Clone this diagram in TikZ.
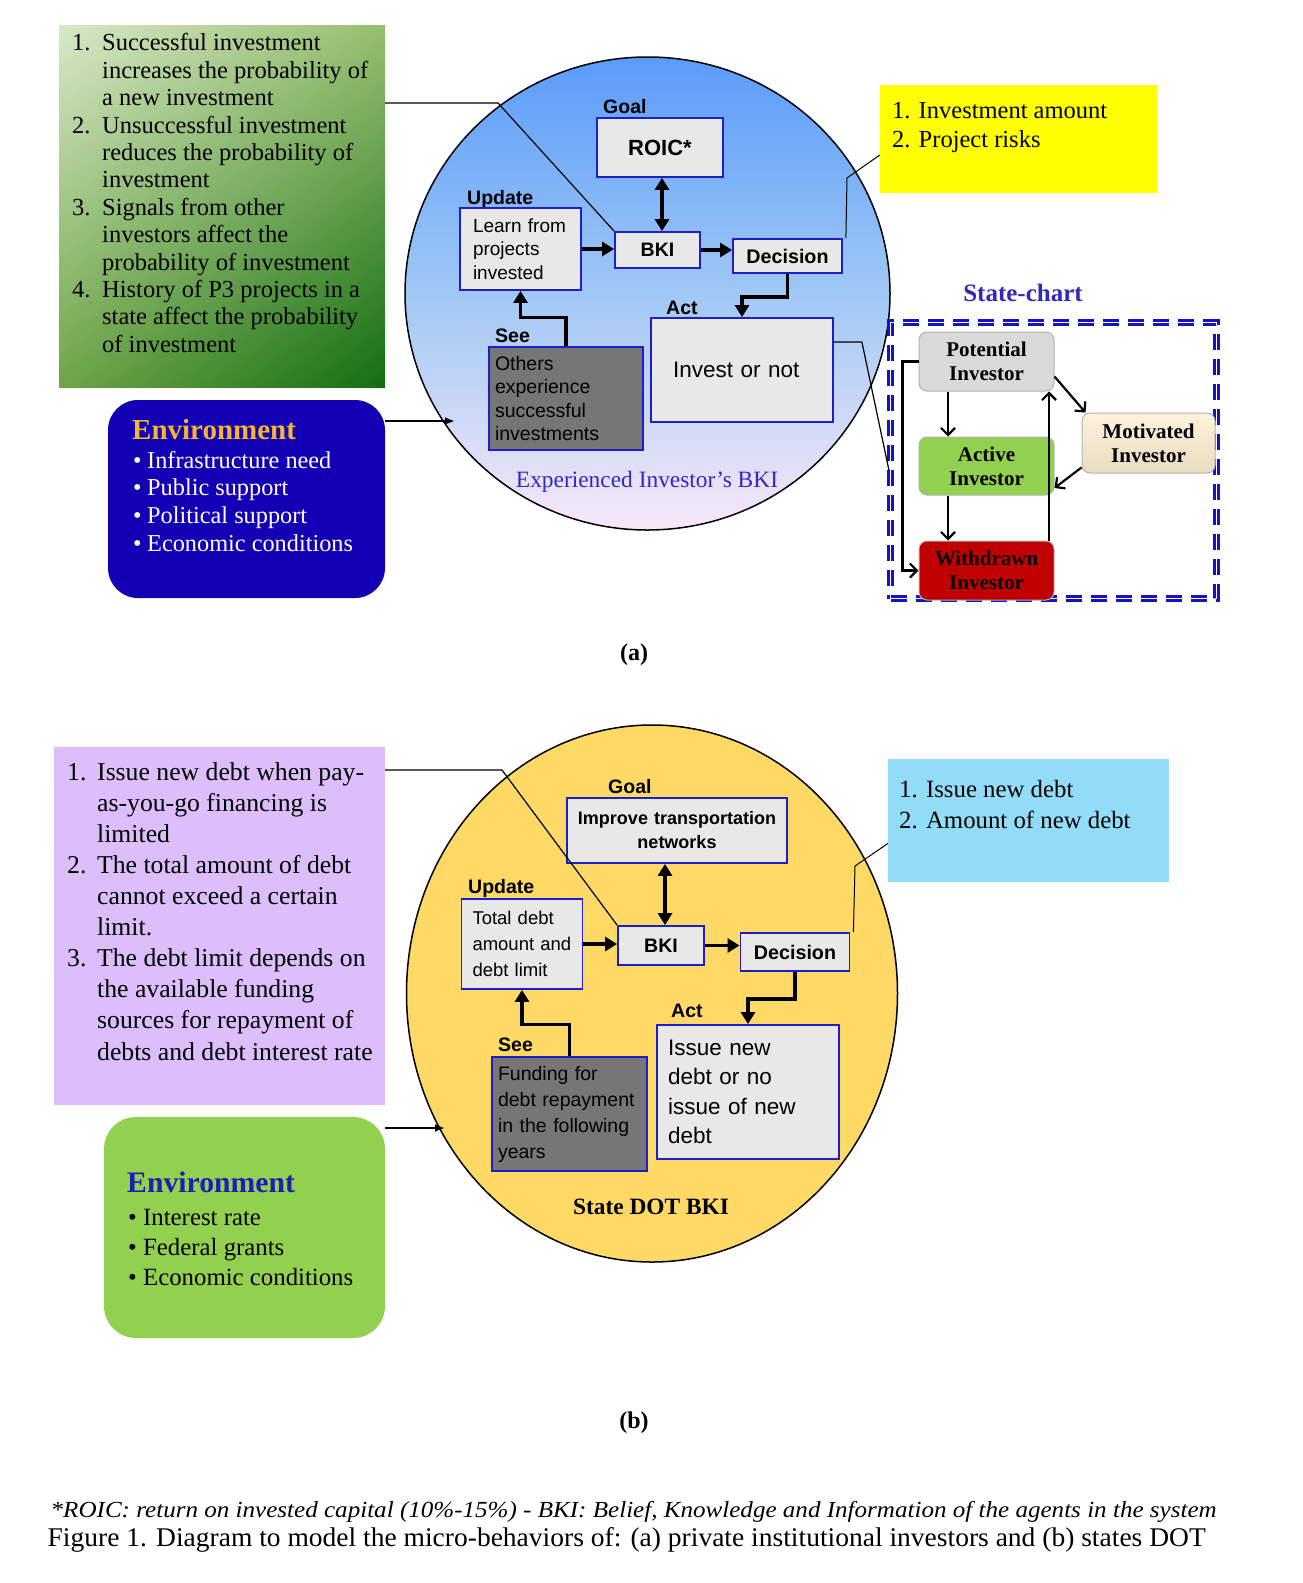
\documentclass[tikz,border=0pt]{standalone}
\usepackage{fontspec}
\setmainfont{Liberation Serif}
\setsansfont{Liberation Sans}
\usepackage{graphicx}
\usetikzlibrary{arrows.meta,positioning,shapes.geometric,shadings}

\definecolor{grnTL}{RGB}{216,232,200}
\definecolor{grnTR}{RGB}{150,190,110}
\definecolor{grnBL}{RGB}{110,165,70}
\definecolor{grnBR}{RGB}{20,110,20}
\definecolor{skyTop}{RGB}{90,155,250}
\definecolor{skyMid}{RGB}{160,200,245}
\definecolor{skyBot}{RGB}{248,232,248}
\definecolor{boxblue}{RGB}{30,30,200}
\definecolor{boxgray}{RGB}{232,232,232}
\definecolor{seegray}{RGB}{118,118,118}
\definecolor{envnavy}{RGB}{20,0,180}
\definecolor{envgold}{RGB}{245,180,50}
\definecolor{noteyellow}{RGB}{255,255,0}
\definecolor{titleblue}{RGB}{50,40,190}
\definecolor{frameblue}{RGB}{20,20,190}
\definecolor{potgray}{RGB}{217,217,217}
\definecolor{actgreen}{RGB}{146,208,80}
\definecolor{wdred}{RGB}{192,0,0}
\definecolor{motTop}{RGB}{253,242,220}
\definecolor{motBot}{RGB}{232,220,190}
\definecolor{rulesLilac}{RGB}{220,190,250}
\definecolor{dotGold}{RGB}{255,217,102}
\definecolor{noteCyan}{RGB}{146,220,248}
\definecolor{envNavyText}{RGB}{30,30,180}

\newcommand\setfs[2]{\fontsize{#1}{#2}\selectfont}
\newlength\fitlen
\newcommand\fitto[2]{\settowidth\fitlen{#2}%
  \pgfmathsetmacro\fitratio{#1/\fitlen}\scalebox{\fitratio}[1]{#2}}

\begin{document}
\begin{tikzpicture}[x=1pt,y=-1pt,
    ibox/.style = {draw=boxblue, line width=1.8pt, fill=boxgray,
        inner ysep=0pt},
    lbl/.style = {font=\sffamily\bfseries\setfs{19.5}{22},
        inner sep=0pt, anchor=west},
    flow/.style = {line width=3.2pt,
        -{Triangle[length=12pt,width=14pt]}},
    flow2/.style = {line width=3.2pt,
        {Triangle[length=12pt,width=14pt]}-{Triangle[length=12pt,width=14pt]}},
    link/.style = {line width=1.2pt},
    stnode/.style = {rounded corners=8pt, draw=black!30, line width=1pt,
        minimum width=135, minimum height=59, align=center,
        font=\bfseries\setfs{21}{24}, inner sep=0pt},
    move/.style = {line width=2.2pt,
        -{Straight Barb[length=7pt,width=14pt]}},
    list/.style = {inner sep=0pt, anchor=north west}]

\useasboundingbox (0,0) rectangle (1302,1583);

%% ---------- (a) ----------

% Rules of investing
\node[upper left=grnTL, upper right=grnTR, lower left=grnBL,
    lower right=grnBR, minimum width=326, minimum height=362,
    inner sep=0pt] (rulesA) at (222,206) {};
\node[list, font=\setfs{24.5}{27.4}] (rulesAtext) at (72,31.5) {%
\begin{tabular}{@{}p{30pt}@{}l@{}}
1. & Successful investment\\
   & increases the probability of\\
   & a new investment\\
2. & Unsuccessful investment\\
   & reduces the probability of\\
   & investment\\
3. & Signals from other\\
   & investors affect the\\
   & probability of investment\\
4. & History of P3 projects in a\\
   & state affect the probability\\
   & of investment
\end{tabular}};

% Environment
\node[rounded corners=30pt, fill=envnavy, minimum width=277,
    minimum height=198, inner sep=0pt] (envA) at (246.5,499) {};
\node[anchor=base west, inner sep=0pt, text=envgold,
    font=\bfseries\setfs{29}{30}] (envAhead) at (132,439) {Environment};
\node[list, text=white, font=\setfs{24.3}{27.6}] (envAlist) at (133,448.7) {%
\begin{tabular}{@{}p{14pt}@{}l@{}}
\textbullet & Infrastructure need\\
\textbullet & Public support\\
\textbullet & Political support\\
\textbullet & Economic conditions
\end{tabular}};

% Investor BKI
\node[ellipse, draw, line width=1.5pt, minimum width=485,
    minimum height=473, inner sep=0pt, top color=skyTop,
    bottom color=skyBot, middle color=skyMid] (bkiCircA) at (647.5,293.5) {};

\node[lbl] (goalA) at (603,107) {Goal};
\node[ibox, minimum width=126, minimum height=59,
    font=\sffamily\bfseries\setfs{22}{24}] (roicA) at (660,147.5) {ROIC*};
\node[ibox, minimum width=85, minimum height=36,
    font=\sffamily\bfseries\setfs{19.5}{22}] (bkiA) at (657.5,250) {BKI};
\node[lbl] (updateA) at (467,199.5) {Update};
\node[ibox, minimum width=121, minimum height=82, inner xsep=13pt,
    text width=95pt, align=left,
    font=\sffamily\setfs{19}{23.5}] (learnA) at (520.5,249)
    {Learn from\\projects\\invested};
\node[ibox, minimum width=109, minimum height=34,
    font=\sffamily\bfseries\setfs{19.7}{22}] (decA) at (787.5,256) {Decision};
\node[lbl] (actA) at (666,307.5) {Act};
\node[ibox, minimum width=182, minimum height=104, inner xsep=22pt,
    text width=138pt, align=left,
    font=\sffamily\setfs{22.5}{26}] (investA) at (742,370) {Invest or not};
\node[lbl] (seeA) at (495,335.5) {See};
\node[ibox, fill=seegray, minimum width=154, minimum height=103,
    inner xsep=6pt, text width=142pt, align=left,
    font=\sffamily\setfs{19.5}{23.5}] (othersA) at (566,398.5)
    {Others\\experience\\successful\\investments};
\node[text=titleblue, font=\setfs{23.4}{26}, inner sep=0pt] (nameA)
    at (647,482) {Experienced Investor’s BKI};

\draw[flow2] ([xshift=4.5pt]bkiA.north |- roicA.south) -- ([xshift=4.5pt]bkiA.north);
\draw[flow] (learnA.east) -- (learnA.east -| bkiA.west);
\draw[flow] (bkiA.east) -- (bkiA.east -| decA.west);
\draw[flow] (decA.south) -- ++(0,23) -| (investA.north);
\draw[flow] (othersA.north) -- ++(0,-29) -| (learnA.south);

% Links to the circle
\coordinate (bendA) at (498,103);
\draw[link] (rulesA.east |- bendA) -- (bendA) -- (bkiA.north west);
\coordinate (envInA) at (455,421);
\draw[link, line width=2pt, -{Latex[length=10pt,width=8pt]}]
    (envA.east |- envInA) -- (envInA);

% Decision variables
\node[fill=noteyellow, minimum width=277, minimum height=108,
    inner sep=0pt] (noteA) at (1018.5,139) {};
\node[list, font=\setfs{24.5}{29}] (noteAtext) at (892,97.7) {%
\begin{tabular}{@{}l@{}}
1. Investment amount\\
2. Project risks
\end{tabular}};
\coordinate (bendY) at (847,178);
\draw[link, line width=1pt] ([xshift=3pt]decA.north east) -- (bendY)
    -- ([yshift=-16pt]noteA.west);

% State-chart
\node[font=\bfseries\setfs{25}{28}, text=titleblue, inner sep=0pt]
    (chartTitle) at (1023,293) {State-chart};
\node[draw=frameblue, line width=3pt, double, double distance=1.2pt,
    dash pattern=on 16pt off 9pt, minimum width=326, minimum height=276,
    inner sep=0pt] (frameA) at (1053.5,460.5) {};
\node[stnode, fill=potgray] (potential) at (986.5,361.5) {Potential\\Investor};
\node[stnode, fill=actgreen, minimum height=58, below=45pt of potential]
    (active) {Active\\Investor};
\node[stnode, fill=wdred, below=45pt of active] (withdrawn) {Withdrawn\\Investor};
\node[stnode, minimum width=133, minimum height=60, top color=motTop,
    bottom color=motBot] (motivated) at (1148.5,443) {Motivated\\Investor};

\draw[move] ([xshift=-38.5pt]potential.south) -- ([xshift=-38.5pt]active.north);
\draw[move] ([xshift=-38.5pt]active.south) -- ([xshift=-38.5pt]withdrawn.north);
\draw[move] ([xshift=62.5pt]withdrawn.north) -- ([xshift=62.5pt]potential.south);
\draw[move] (potential.west) -- ++(-16,0) |- (withdrawn.west);
\draw[move] ([yshift=-15pt]potential.east) -- ([xshift=4pt]motivated.north west);
\draw[move] ([yshift=6pt]motivated.south west) -- ([yshift=-22pt]active.east);

\draw[link] ([yshift=28pt]investA.east) -- ++(28,0) -- ([yshift=-10pt]frameA.west);

\node[font=\bfseries\setfs{24}{26}, inner sep=0pt] (partA) at (634,655) {(a)};

%% ---------- (b) ----------

% Rules of debt
\node[fill=rulesLilac, minimum width=331, minimum height=358,
    inner sep=0pt] (rulesB) at (219.5,926) {};
\node[list, font=\setfs{25.7}{31.1}] (rulesBtext) at (67,758.2) {%
\begin{tabular}{@{}p{30pt}@{}l@{}}
1. & Issue new debt when pay-\\
   & as-you-go financing is\\
   & limited\\
2. & The total amount of debt\\
   & cannot exceed a certain\\
   & limit.\\
3. & The debt limit depends on\\
   & the available funding\\
   & sources for repayment of\\
   & debts and debt interest rate
\end{tabular}};

% Environment
\node[rounded corners=32pt, fill=actgreen, minimum width=281,
    minimum height=221, inner sep=0pt] (envB) at (244.5,1227.5) {};
\node[anchor=base west, inner sep=0pt, text=envNavyText,
    font=\bfseries\setfs{29.7}{30}] (envBhead) at (127,1192) {Environment};
\node[list, font=\setfs{24.8}{30}] (envBlist) at (128,1204) {%
\begin{tabular}{@{}p{15pt}@{}l@{}}
\textbullet & Interest rate\\
\textbullet & Federal grants\\
\textbullet & Economic conditions
\end{tabular}};

% DOT BKI
\node[ellipse, draw, line width=1.5pt, fill=dotGold, minimum width=491,
    minimum height=537, inner sep=0pt] (bkiCircB) at (652,993.5) {};

\node[lbl] (goalB) at (608,787) {Goal};
\node[ibox, minimum width=220, minimum height=65, inner xsep=4pt,
    text width=212pt, align=center,
    font=\sffamily\bfseries\setfs{18}{24}] (improveB) at (677,830.5)
    {Improve transportation\\networks};
\node[ibox, minimum width=86, minimum height=39,
    font=\sffamily\bfseries\setfs{19.5}{22}] (bkiB) at (661,945.5) {BKI};
\node[lbl] (updateB) at (468,888) {Update};
\node[ibox, minimum width=121, minimum height=90, inner xsep=11pt,
    text width=99pt, align=left,
    font=\sffamily\setfs{18.5}{26}] (totalB) at (522,944)
    {Total debt\\amount and\\debt limit};
\node[ibox, minimum width=109, minimum height=38,
    font=\sffamily\bfseries\setfs{19.7}{22}] (decB) at (795,952) {Decision};
\node[lbl] (actB) at (671,1011) {Act};
\node[ibox, minimum width=182, minimum height=134, inner xsep=11pt,
    text width=160pt, align=left,
    font=\sffamily\setfs{22.5}{29.3}] (issueB) at (748,1092)
    {Issue new\\debt or no\\issue of new\\debt};
\node[lbl] (seeB) at (498,1045) {See};
\node[ibox, fill=seegray, minimum width=155, minimum height=114,
    inner xsep=6pt, text width=143pt, align=left,
    font=\sffamily\setfs{19.5}{26}] (fundingB) at (569.5,1114)
    {Funding for\\debt repayment\\in the following\\years};
\node[font=\bfseries\setfs{23.4}{26}, inner sep=0pt] (nameB)
    at (651,1207) {State DOT BKI};

\draw[flow2] ([xshift=4pt]bkiB.north |- improveB.south) -- ([xshift=4pt]bkiB.north);
\draw[flow] (totalB.east) -- (totalB.east -| bkiB.west);
\draw[flow] (bkiB.east) -- (bkiB.east -| decB.west);
\draw[flow] (decB.south) -- ++(0,27) -| (issueB.north);
\draw[flow] (fundingB.north) -- ++(0,-32) -| (totalB.south);

% Links to the circle
\coordinate (bendB) at (502,770);
\draw[link] (rulesB.east |- bendB) -- (bendB) -- (bkiB.north west);
\coordinate (envInB) at (445,1128);
\draw[link, line width=2pt, -{Latex[length=10pt,width=8pt]}]
    (envB.east |- envInB) -- (envInB);

% Decision variables
\node[fill=noteCyan, minimum width=281, minimum height=123,
    inner sep=0pt] (noteB) at (1028.5,820.5) {};
\node[list, font=\setfs{24.8}{31}] (noteBtext) at (899,775.3) {%
\begin{tabular}{@{}l@{}}
1. Issue new debt\\
2. Amount of new debt
\end{tabular}};
\coordinate (bendC) at (855,866);
\draw[link, line width=1pt] ([xshift=3pt]decB.north east) -- (bendC)
    -- ([yshift=-23pt]noteB.west);

\node[font=\bfseries\setfs{24}{26}, inner sep=0pt] (partB) at (634,1423) {(b)};

% Caption
\node[anchor=west, inner sep=0pt, font=\itshape\setfs{23}{25}] (note)
    at (50.5,1512) {\fitto{1166}{*ROIC: return on invested capital
    (10\%-15\%) - BKI: Belief, Knowledge and Information of the agents
    in the system}};
\node[anchor=west, inner sep=0pt, font=\setfs{27}{29}] (figcap)
    at (47.5,1540) {\fitto{1158}{Figure 1. Diagram to model the
    micro-behaviors of: (a) private institutional investors and (b)
    states DOT}};
\end{tikzpicture}
\end{document}
